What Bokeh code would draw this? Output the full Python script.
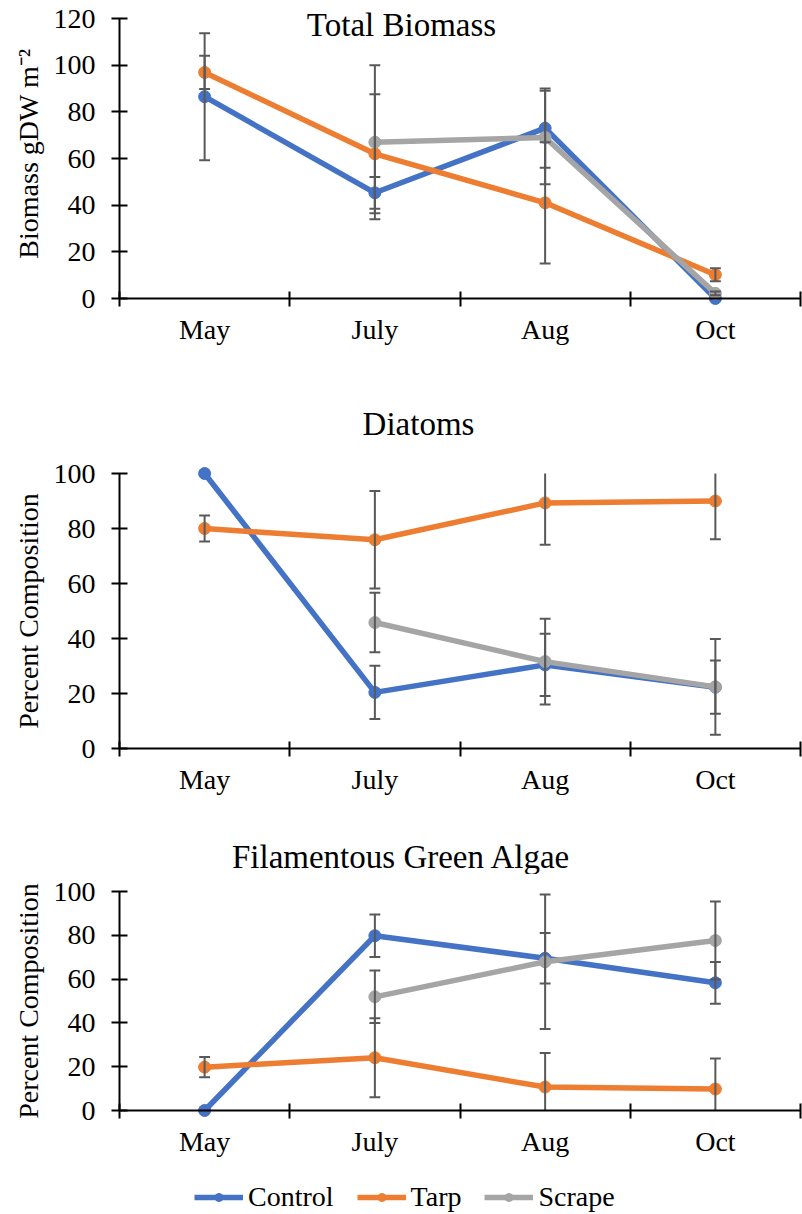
import math
from bokeh.plotting import figure
from bokeh.layouts import column
from bokeh.models import (Range1d, FixedTicker, Label, Legend, LegendItem,
                          Span)
from bokeh.embed import file_html
from bokeh.resources import INLINE

nan = float("nan")

months = ["May", "July", "Aug", "Oct"]
series_names = ["Control", "Tarp", "Scrape"]
series_colors = ["#4472C4", "#ED7D31", "#A5A5A5"]

# Total Biomass (gDW m^-2)
biomass_control = [86.5, 45.3, 73.0, 0.0]
biomass_tarp = [96.9, 62.0, 41.0, 10.2]
biomass_scrape = [nan, 67.0, 69.0, 2.2]
biomass_control_err = [27.2, 6.8, 17.0, 0.0]
biomass_tarp_err = [7.1, 25.5, 26.0, 2.8]
biomass_scrape_err = [nan, 33.0, 20.0, 0.8]

# Diatoms (percent composition)
diatoms_control = [100.0, 20.4, 30.4, 22.3]
diatoms_tarp = [80.0, 75.9, 89.3, 90.0]
diatoms_scrape = [nan, 45.8, 31.6, 22.4]
diatoms_control_err = [0.0, 9.7, 11.3, 9.7]
diatoms_tarp_err = [4.7, 17.7, 15.2, 13.9]
diatoms_scrape_err = [nan, 10.8, 15.6, 17.4]

# Filamentous Green Algae (percent composition)
algae_control = [0.0, 79.8, 69.5, 58.3]
algae_tarp = [19.8, 24.1, 10.7, 9.8]
algae_scrape = [nan, 51.9, 67.9, 77.6]
algae_control_err = [0.0, 9.7, 11.5, 9.5]
algae_tarp_err = [4.6, 18.0, 15.6, 13.9]
algae_scrape_err = [nan, 12.0, 30.7, 17.8]

FONT = "Liberation Serif"
ERR_COLOR = "#595959"
LINE_W = 5.5
MARKER = 12
W = 802
LEFT = 119
RIGHT = 2
FRAME_W = W - LEFT - RIGHT
PAD = 8  # frame reaches a little beyond 0 so markers at 0 are not cut


def title_label(title, x_px, y_value):
    return Label(x=(x_px - LEFT) / FRAME_W * 4, y=y_value, text=title,
                 text_font=FONT, text_font_size="33px", text_color="black",
                 text_align="center", text_baseline="middle")


def title_strip(title, strip_top, strip_bottom, x_px, y_px):
    s = figure(width=W, height=strip_bottom - strip_top, output_backend="svg",
               toolbar_location=None, x_axis_location=None,
               y_axis_location=None, min_border_left=LEFT,
               min_border_right=RIGHT, min_border_top=0, min_border_bottom=0,
               x_range=Range1d(0, 4), y_range=Range1d(0, 1))
    s.outline_line_color = None
    s.grid.visible = False
    s.add_layout(title_label(title, x_px,
                             (strip_bottom - y_px) / (strip_bottom - strip_top)))
    return s


def make_panel(ylabel, ymax, ystep, values, errors, fig_top, fig_bottom,
               frame_top, top_px, zero_px, title=None, title_x_px=None,
               title_y_px=None):
    scale = (zero_px - top_px) / ymax  # px per unit
    frame_bottom = zero_px + PAD
    y_start = -PAD / scale
    y_end = (zero_px - frame_top) / scale
    p = figure(width=W, height=fig_bottom - fig_top, output_backend="svg",
               toolbar_location=None, min_border_left=LEFT,
               min_border_right=RIGHT, min_border_top=frame_top - fig_top,
               min_border_bottom=fig_bottom - frame_bottom,
               x_range=Range1d(0, 4), y_range=Range1d(y_start, y_end))
    p.outline_line_color = None
    p.grid.visible = False
    p.background_fill_color = "white"
    p.border_fill_color = "white"

    centers = [i + 0.5 for i in range(len(months))]

    # x axis: line drawn at y = 0, tick marks at category boundaries
    p.add_layout(Span(location=0, dimension="width", line_color="black",
                      line_width=2))
    xa = p.xaxis[0]
    xa.axis_line_color = None
    xa.ticker = FixedTicker(ticks=centers,
                            minor_ticks=list(range(len(months) + 1)))
    xa.major_label_overrides = {c: m for c, m in zip(centers, months)}
    xa.major_tick_line_color = None
    xa.major_tick_out = 0
    xa.major_tick_in = 0
    xa.minor_tick_line_color = "black"
    xa.minor_tick_line_width = 2
    xa.minor_tick_in = PAD + 7
    xa.minor_tick_out = 0
    xa.major_label_text_font = FONT
    xa.major_label_text_font_size = "28px"
    xa.major_label_text_color = "black"
    xa.major_label_standoff = 7

    ya = p.yaxis[0]
    ya.bounds = (0, ymax)
    ya.ticker = FixedTicker(ticks=list(range(0, ymax + 1, ystep)),
                            minor_ticks=[])
    ya.major_tick_in = 8
    ya.major_tick_out = 8
    ya.major_tick_line_width = 2
    ya.major_tick_line_color = "black"
    ya.axis_line_width = 2
    ya.axis_line_color = "black"
    ya.major_label_text_font = FONT
    ya.major_label_text_font_size = "28px"
    ya.major_label_text_color = "black"
    ya.major_label_standoff = 16
    ya.axis_label = ylabel
    ya.axis_label_text_font = FONT
    ya.axis_label_text_font_size = "28px"
    ya.axis_label_text_font_style = "normal"
    ya.axis_label_text_color = "black"
    ya.axis_label_standoff = 7

    for name, color, vals in zip(series_names, series_colors, values):
        p.line(centers, vals, line_color=color, line_width=LINE_W)
        p.scatter(centers, vals, size=MARKER, fill_color=color,
                  line_color=color)

    # error bars (cut at the axis maximum, as in the original)
    cap = 0.032
    for vals, errs in zip(values, errors):
        xs, lo, hi, cx_lo, cy_lo, cx_hi, cy_hi = [], [], [], [], [], [], []
        for c, v, e in zip(centers, vals, errs):
            if math.isnan(v) or math.isnan(e) or e <= 0:
                continue
            xs.append(c)
            lo.append(max(v - e, 0))
            hi.append(min(v + e, ymax))
            if v - e >= 0:
                cx_lo.append(c)
                cy_lo.append(v - e)
            if v + e <= ymax:
                cx_hi.append(c)
                cy_hi.append(v + e)
        if not xs:
            continue
        p.segment(x0=xs, y0=lo, x1=xs, y1=hi, line_color=ERR_COLOR,
                  line_width=2)
        p.segment(x0=[x - cap for x in cx_lo], y0=cy_lo,
                  x1=[x + cap for x in cx_lo], y1=cy_lo,
                  line_color=ERR_COLOR, line_width=2)
        p.segment(x0=[x - cap for x in cx_hi], y0=cy_hi,
                  x1=[x + cap for x in cx_hi], y1=cy_hi,
                  line_color=ERR_COLOR, line_width=2)

    if title is not None:
        p.add_layout(title_label(title, title_x_px,
                                 (zero_px - title_y_px) / scale))
    return p


p1 = make_panel("Biomass gDW m\u207b\u00b2", 120, 20,
                [biomass_control, biomass_tarp, biomass_scrape],
                [biomass_control_err, biomass_tarp_err, biomass_scrape_err],
                0, 400, 0, 18, 298, "Total Biomass", 401, 24)
t2 = title_strip("Diatoms", 400, 445, 418, 423)
p2 = make_panel("Percent Composition", 100, 20,
                [diatoms_control, diatoms_tarp, diatoms_scrape],
                [diatoms_control_err, diatoms_tarp_err, diatoms_scrape_err],
                445, 820, 465, 473, 748)
t3 = title_strip("Filamentous Green Algae", 820, 874, 401, 856)
p3 = make_panel("Percent Composition", 100, 20,
                [algae_control, algae_tarp, algae_scrape],
                [algae_control_err, algae_tarp_err, algae_scrape_err],
                874, 1168, 883, 891, 1110)

# legend strip (its proxy renderers carry the series data but stay hidden)
pl = figure(width=W, height=46, output_backend="svg", toolbar_location=None,
            x_axis_location=None, y_axis_location=None,
            min_border_left=LEFT, min_border_right=RIGHT, min_border_top=0,
            min_border_bottom=0, x_range=Range1d(0, 4),
            y_range=Range1d(0, 100))
pl.outline_line_color = None
pl.grid.visible = False
items = []
legend_centers = [i + 0.5 for i in range(len(months))]
for name, color, vals in zip(series_names, series_colors,
                             [algae_control, algae_tarp, algae_scrape]):
    ln = pl.line(legend_centers, vals, line_color=color, line_width=LINE_W,
                 visible=False)
    sc = pl.scatter(legend_centers, vals, size=MARKER, fill_color=color,
                    line_color=color, visible=False)
    items.append(LegendItem(label=name, renderers=[ln, sc]))
leg = Legend(items=items, orientation="horizontal", location=(194 - LEFT, 1))
leg.label_text_font = FONT
leg.label_text_font_size = "28px"
leg.label_text_color = "black"
leg.glyph_width = 49
leg.glyph_height = 20
leg.label_standoff = 5
leg.spacing = 23
leg.padding = 0
leg.margin = 0
leg.border_line_color = None
leg.background_fill_alpha = 0
leg.inactive_fill_alpha = 0
pl.add_layout(leg)

layout = column(p1, t2, p2, t3, p3, pl, spacing=0)
open("out.html", "w").write(file_html(layout, INLINE))
